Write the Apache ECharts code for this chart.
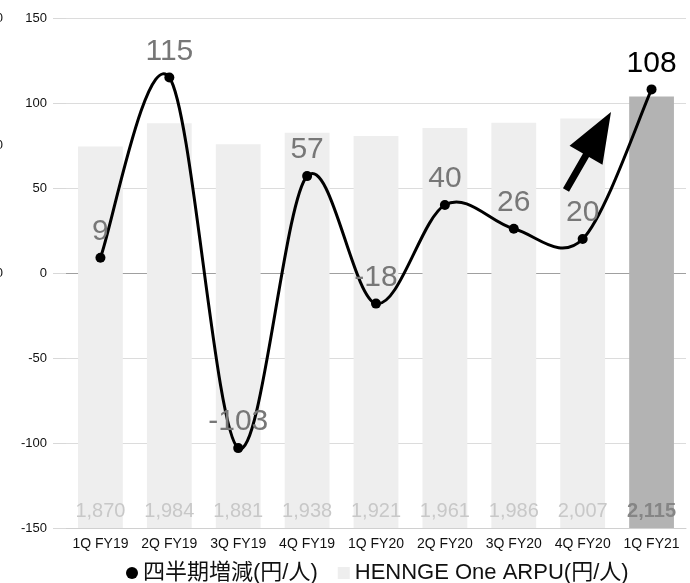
<!DOCTYPE html>
<html>
<head>
<meta charset="utf-8">
<script src="https://cdn.jsdelivr.net/npm/echarts@6/dist/echarts.min.js"></script>
<style>
  html, body { margin: 0; padding: 0; background: #fff; }
  #chart { width: 690px; height: 583px; }
</style>
</head>
<body>
<div id="chart"></div>
<script>
// quarters
var quarters = ['1Q FY19', '2Q FY19', '3Q FY19', '4Q FY19', '1Q FY20', '2Q FY20', '3Q FY20', '4Q FY20', '1Q FY21'];
// quarter on quarter change (yen / user)
var qoqChange = [9, 115, -103, 57, -18, 40, 26, 20, 108];
// HENNGE One ARPU (yen / user)
var arpu = [1870, 1984, 1881, 1938, 1921, 1961, 1986, 2007, 2115];
// left axis ticks
var changeTicks = [-150, -100, -50, 0, 50, 100, 150];

var font = '"Liberation Sans", Arial, "Noto Sans CJK JP", sans-serif';
var lastIdx = quarters.length - 1;

var chart = echarts.init(document.getElementById('chart'), null, { renderer: 'canvas' });

// excel-like smoothed curve (catmull-rom -> bezier) through the data points
function renderCurve(params, api) {
  if (params.dataIndex !== 0) return null;
  var pts = qoqChange.map(function (v, i) { return api.coord([i, v]); });
  var d = 'M' + pts[0][0] + ' ' + pts[0][1];
  for (var i = 0; i < pts.length - 1; i++) {
    var p0 = pts[i - 1] || pts[i];
    var p1 = pts[i];
    var p2 = pts[i + 1];
    var p3 = pts[i + 2] || pts[i + 1];
    var c1x = p1[0] + (p2[0] - p0[0]) / 6, c1y = p1[1] + (p2[1] - p0[1]) / 6;
    var c2x = p2[0] - (p3[0] - p1[0]) / 6, c2y = p2[1] - (p3[1] - p1[1]) / 6;
    d += ' C' + c1x + ' ' + c1y + ' ' + c2x + ' ' + c2y + ' ' + p2[0] + ' ' + p2[1];
  }
  return {
    type: 'path',
    shape: { pathData: d },
    style: { fill: null, stroke: '#000', lineWidth: 3 }
  };
}

var option = {
  animation: false,
  textStyle: { fontFamily: font },
  grid: { left: 66, right: 4, top: 18, bottom: 55, containLabel: false, outerBoundsMode: 'none' },
  legend: {
    left: 121,
    top: 557,
    itemGap: 20,
    textStyle: { fontSize: 22, color: '#111', fontFamily: font },
    data: [
      { name: '四半期増減(円/人)', icon: 'circle', itemStyle: { color: '#000' } },
      { name: 'HENNGE One ARPU(円/人)', icon: 'rect', itemStyle: { color: '#eeeeee' } }
    ],
    itemWidth: 12,
    itemHeight: 12
  },
  xAxis: {
    type: 'category',
    data: quarters,
    boundaryGap: true,
    axisLine: { onZero: false, lineStyle: { color: '#d0d0d0', width: 1 } },
    axisTick: { show: false },
    axisLabel: { color: '#111', fontSize: 14, margin: 9, interval: 0, fontFamily: font }
  },
  yAxis: [
    {
      type: 'value',
      min: changeTicks[0],
      max: changeTicks[changeTicks.length - 1],
      interval: 50,
      axisLine: { show: false },
      axisTick: { show: true, length: 13, lineStyle: { color: '#d8d8d8' } },
      axisLabel: { color: '#111', fontSize: 13, margin: 19, fontFamily: font },
      splitLine: {
        lineStyle: { color: ['#dcdcdc', '#dcdcdc', '#dcdcdc', '#a0a0a0', '#dcdcdc', '#dcdcdc', '#dcdcdc'], width: 1 }
      }
    },
    {
      type: 'value',
      position: 'left',
      offset: 55,
      min: 0,
      max: 2500,
      interval: 625,
      axisLine: { show: false },
      axisTick: { show: false },
      splitLine: { show: false },
      axisLabel: {
        color: '#111', fontSize: 13, margin: 8, fontFamily: font,
        formatter: function (v) { return v >= 1250 ? String(Math.round(v / 10) * 10) : ''; }
      }
    }
  ],
  series: [
    {
      name: 'HENNGE One ARPU(円/人)',
      type: 'bar',
      yAxisIndex: 1,
      barWidth: '65%',
      z: 1,
      data: arpu.map(function (v, i) {
        var last = i === lastIdx;
        return {
          value: v,
          itemStyle: { color: last ? '#b3b3b3' : '#eeeeee' },
          label: {
            color: last ? '#858585' : '#c8c8c8',
            fontWeight: last ? 'bold' : 'normal'
          }
        };
      }),
      label: {
        show: true,
        position: 'insideBottom',
        distance: 7,
        fontSize: 20,
        fontFamily: font,
        formatter: function (p) { return p.value.toLocaleString('en-US'); }
      }
    },
    {
      name: 'curve',
      type: 'custom',
      yAxisIndex: 0,
      z: 4,
      silent: true,
      renderItem: renderCurve,
      data: qoqChange.map(function (v, i) { return [i, v]; })
    },
    {
      name: '四半期増減(円/人)',
      type: 'line',
      yAxisIndex: 0,
      z: 5,
      symbol: 'circle',
      symbolSize: 10,
      lineStyle: { width: 0, opacity: 0 },
      itemStyle: { color: '#000' },
      data: qoqChange.map(function (v, i) {
        return { value: v, label: { color: i === lastIdx ? '#000' : '#777' } };
      }),
      label: {
        show: true,
        position: 'top',
        distance: 6,
        fontSize: 30,
        fontFamily: font
      }
    }
  ]
};

chart.setOption(option);

// up arrow annotation beside the last quarter
function arrowShape(x0, y0, x1, y1, shaft, headLen, headHalf) {
  var dx = x1 - x0, dy = y1 - y0;
  var len = Math.sqrt(dx * dx + dy * dy);
  var ux = dx / len, uy = dy / len;
  var px = -uy, py = ux;
  var bx = x1 - ux * headLen, by = y1 - uy * headLen;
  return [
    [x0 + px * shaft / 2, y0 + py * shaft / 2],
    [bx + px * shaft / 2, by + py * shaft / 2],
    [bx + px * headHalf, by + py * headHalf],
    [x1, y1],
    [bx - px * headHalf, by - py * headHalf],
    [bx - px * shaft / 2, by - py * shaft / 2],
    [x0 - px * shaft / 2, y0 - py * shaft / 2]
  ];
}

chart.setOption({
  graphic: [{
    type: 'polygon',
    z: 10,
    shape: { points: arrowShape(566, 190, 611, 112, 7, 50, 19) },
    style: { fill: '#000' }
  }]
});
</script>
</body>
</html>
